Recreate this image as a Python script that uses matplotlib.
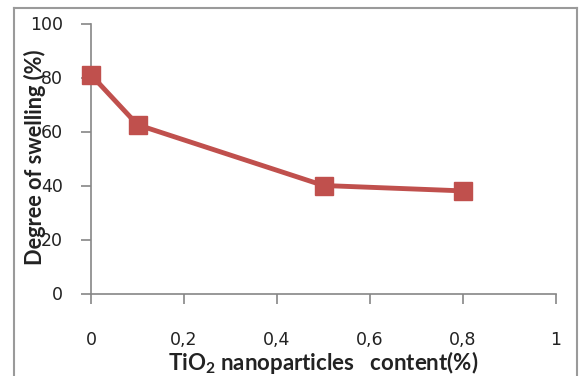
import matplotlib.pyplot as plt
from matplotlib.lines import Line2D

# data
tio2_content = [0, 0.1, 0.5, 0.8]
swelling = [81, 62.5, 40, 38]
x_ticks = [0, 0.2, 0.4, 0.6, 0.8, 1]
x_tick_labels = ["0", "0,2", "0,4", "0,6", "0,8", "1"]
y_ticks = [0, 20, 40, 60, 80, 100]

W, H = 579, 376
fig = plt.figure(figsize=(W / 100, H / 100), dpi=100)

# axes box in pixels: left 91, right 556, top 23.5, bottom 293.5
ax = fig.add_axes([91 / W, 1 - 293.5 / H, (556 - 91) / W, (293.5 - 23.5) / H])

red = "#c0504d"
ax.plot(tio2_content, swelling, color=red, lw=3.5, marker="s", ms=13,
        markerfacecolor=red, markeredgecolor=red, zorder=3, clip_on=False)

ax.set_xlim(0, 1)
ax.set_ylim(0, 100)
ax.set_xticks(x_ticks)
ax.set_xticklabels(x_tick_labels)
ax.set_yticks(y_ticks)

for s in ["top", "right"]:
    ax.spines[s].set_visible(False)
for s in ["left", "bottom"]:
    ax.spines[s].set_color("#868686")
    ax.spines[s].set_linewidth(1.2)

ax.tick_params(axis="both", colors="#868686", length=7, width=1.2,
               labelcolor="#222222", labelsize=12.5)
ax.tick_params(axis="x", pad=20)
ax.tick_params(axis="y", pad=13)
for lab in ax.get_xticklabels() + ax.get_yticklabels():
    lab.set_family("DejaVu Sans")

# axis titles placed like the original (y title overlaps the tick labels)
plt.rcParams["mathtext.fontset"] = "custom"
plt.rcParams["mathtext.rm"] = "Lato:bold"
plt.rcParams["mathtext.default"] = "rm"
fig.text(35 / W, 1 - 157 / H, "Degree of swelling (%)", rotation=90,
         ha="center", va="center", fontsize=15.7, fontweight="bold",
         family="Lato", color="#222222")
fig.text(323 / W, 1 - 362 / H, r"TiO$_2$ nanoparticles   content(%)",
         ha="center", va="center", fontsize=16, fontweight="bold",
         family="Lato", color="#222222")

# outer chart border (top, left, right visible)
border = "#9a9a9a"
fig.add_artist(Line2D([14 / W, 577 / W], [1 - 8 / H, 1 - 8 / H], color=border, lw=1.5))
fig.add_artist(Line2D([14 / W, 14 / W], [0, 1 - 8 / H], color=border, lw=1.5))
fig.add_artist(Line2D([577 / W, 577 / W], [0, 1 - 8 / H], color=border, lw=1.5))

fig.savefig("out.png", dpi=100)
